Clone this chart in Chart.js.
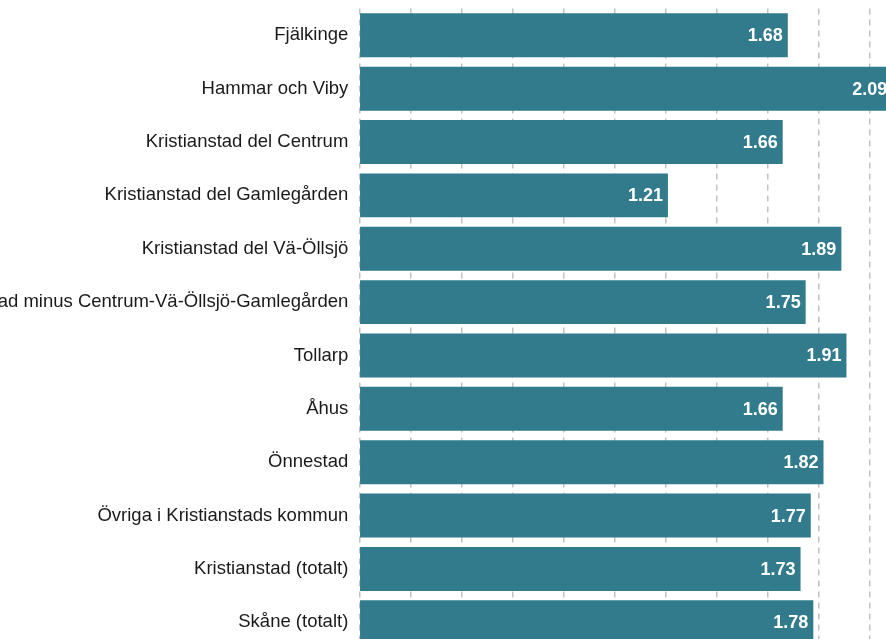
<!DOCTYPE html>
<html>
<head>
<meta charset="utf-8">
<script src="https://cdn.jsdelivr.net/npm/chart.js@4"></script>
<style>
  html, body { margin: 0; padding: 0; background: #fff; overflow: hidden; }
  #wrap { position: relative; width: 886px; height: 639px; overflow: hidden; }
  #chart { position: absolute; left: 0; top: 0; }
</style>
</head>
<body>
<div id="wrap">
  <canvas id="chart" width="886" height="650"></canvas>
</div>
<script>
const areas = [
  "Fjälkinge",
  "Hammar och Viby",
  "Kristianstad del Centrum",
  "Kristianstad del Gamlegården",
  "Kristianstad del Vä-Öllsjö",
  "Kristianstad minus Centrum-Vä-Öllsjö-Gamlegården",
  "Tollarp",
  "Åhus",
  "Önnestad",
  "Övriga i Kristianstads kommun",
  "Kristianstad (totalt)",
  "Skåne (totalt)"
];
const values = [1.68, 2.09, 1.66, 1.21, 1.89, 1.75, 1.91, 1.66, 1.82, 1.77, 1.73, 1.78];

const barColor = "#317b8d";

// white value label at the end of each bar
const valueLabels = {
  id: "valueLabels",
  afterDatasetsDraw(chart) {
    const ctx = chart.ctx;
    const meta = chart.getDatasetMeta(0);
    ctx.save();
    ctx.font = "bold 18px 'Liberation Sans', Arial, sans-serif";
    ctx.fillStyle = "#ffffff";
    ctx.textAlign = "right";
    ctx.textBaseline = "middle";
    meta.data.forEach(function (bar, i) {
      ctx.fillText(values[i].toFixed(2), bar.x - 5, bar.y + 1);
    });
    ctx.restore();
  }
};

new Chart(document.getElementById("chart"), {
  type: "bar",
  data: {
    labels: areas,
    datasets: [{
      data: values,
      backgroundColor: barColor,
      borderWidth: 0,
      categoryPercentage: 1,
      barPercentage: 0.824
    }]
  },
  options: {
    indexAxis: "y",
    responsive: false,
    animation: false,
    layout: { padding: { top: 8.6, bottom: 1, left: 0, right: 0 } },
    plugins: {
      legend: { display: false },
      tooltip: { enabled: false }
    },
    scales: {
      x: {
        min: 0,
        max: 2.065,
        ticks: { display: false, stepSize: 0.2, includeBounds: false },
        grid: {
          color: "#c2c2c2",
          lineWidth: 1.5,
          drawTicks: false
        },
        border: { display: false, dash: [6, 5] },
        afterFit: function (scale) {
          scale.height = 0;
          scale.paddingLeft = 0;
          scale.paddingRight = 0;
        }
      },
      y: {
        grid: { display: false, drawTicks: false },
        border: { display: false },
        ticks: {
          color: "#1a1a1a",
          padding: 11,
          autoSkip: false,
          font: { family: "'Liberation Sans', Arial, sans-serif", size: 18.5 }
        },
        afterFit: function (scale) {
          scale.width = 359.3;
          scale.paddingTop = 0;
          scale.paddingBottom = 0;
        }
      }
    }
  },
  plugins: [valueLabels]
});
</script>
</body>
</html>
